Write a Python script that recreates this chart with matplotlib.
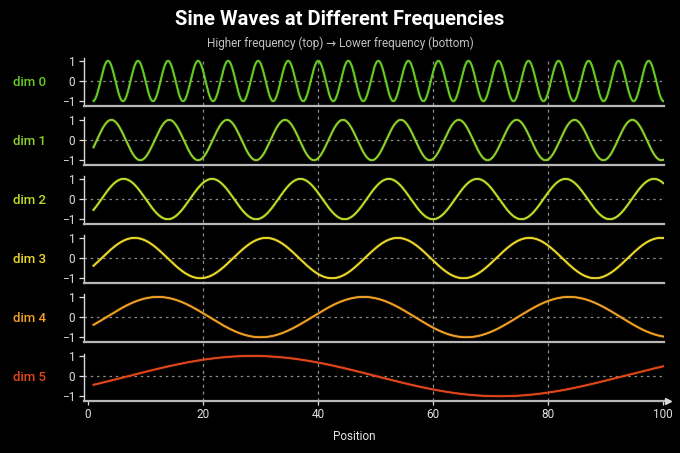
import numpy as np
import matplotlib
matplotlib.use("Agg")
import matplotlib.pyplot as plt
import matplotlib.transforms as mtransforms
from matplotlib.lines import Line2D
import matplotlib.patheffects as pe

# ---- data ----
dims = ["dim 0", "dim 1", "dim 2", "dim 3", "dim 4", "dim 5"]
periods = [5.22, 10.06, 15.36, 22.86, 35.74, 86.0]      # wavelength in positions
peak_pos = [3.51, 4.10, 6.23, 8.14, 12.19, 28.6]        # position of a crest
colors = ["#66cc22", "#8fd12a", "#c2dc28", "#ecd82a", "#f2a024", "#e2471a"]
pos_start, pos_end = 1, 100
xticks = [0, 20, 40, 60, 80, 100]
yticks = [-1, 0, 1]
title = "Sine Waves at Different Frequencies"
subtitle = "Higher frequency (top) \u2192 Lower frequency (bottom)"
xlabel = "Position"

plt.rcParams["font.family"] = ["Roboto", "DejaVu Sans"]
plt.rcParams["axes.unicode_minus"] = True

fig, axes = plt.subplots(len(dims), 1, figsize=(6.8, 4.53), dpi=100, sharex=True,
                         gridspec_kw=dict(left=0.124, right=0.977, top=0.871,
                                          bottom=0.115, hspace=0.245))
fig.patch.set_facecolor("black")

x = np.linspace(pos_start, pos_end, 1200)
for ax, name, T, p0, c in zip(axes, dims, periods, peak_pos, colors):
    ax.set_facecolor("none")
    y = np.cos(2 * np.pi * (x - p0) / T)
    ax.plot(x, y, color=c, lw=1.15, zorder=3,
            path_effects=[pe.withStroke(linewidth=2.4, foreground=c, alpha=0.2),
                          pe.Normal()])
    ax.axhline(0, color="#8a8a8a", lw=0.9, ls=(0, (2, 3)), zorder=1)
    ax.set_ylim(-1.23, 1.12)
    ax.set_xlim(-0.6, 100.2)
    ax.set_yticks(yticks)
    ax.set_yticklabels([f"{t}".replace("-", "\u2212") for t in yticks])
    for s in ["top", "right"]:
        ax.spines[s].set_visible(False)
    ax.spines["left"].set_color("#d8d8d8")
    ax.spines["left"].set_linewidth(1.0)
    ax.spines["bottom"].set_color("#b8b8b8")
    ax.spines["bottom"].set_linewidth(1.6)
    ax.tick_params(axis="y", colors="#e0e0e0", labelsize=8.5, length=3.5, width=0.9, pad=3)
    ax.tick_params(axis="x", colors="#e0e0e0", labelsize=8.5, length=0, pad=4)
    ax.text(-0.095, 0.5, name, transform=ax.transAxes, color=c, fontsize=9.5,
            fontweight="medium", ha="center", va="center")

axes[-1].set_xticks(xticks)
axes[-1].tick_params(axis="x", length=3, width=0.9, direction="out", pad=2)
axes[-1].set_xlabel(xlabel, color="#e6e6e6", fontsize=8.5, labelpad=7)
axes[-1].xaxis.set_label_coords(0.466, -0.62)
axes[-1].plot([1.006], [0], marker=">", ms=5, color="#d8d8d8",
              transform=axes[-1].transAxes, clip_on=False)

# vertical dashed gridlines spanning all panels
top_y = axes[0].get_position().y1
bot_y = axes[-1].get_position().y0
trans = mtransforms.blended_transform_factory(axes[-1].transData, fig.transFigure)
for xt in xticks[1:-1]:
    fig.add_artist(Line2D([xt, xt], [bot_y, top_y], transform=trans, color="#8a8a8a",
                          lw=0.9, ls=(0, (2.5, 3)), zorder=-1))

fig.text(0.5, 0.958, title, color="white", fontsize=14.5, fontweight="bold",
         ha="center", va="center")
fig.text(0.5, 0.905, subtitle, color="#c0c0c0", fontsize=8.5, ha="center", va="center")

fig.savefig("out.png", dpi=100, facecolor="black")
